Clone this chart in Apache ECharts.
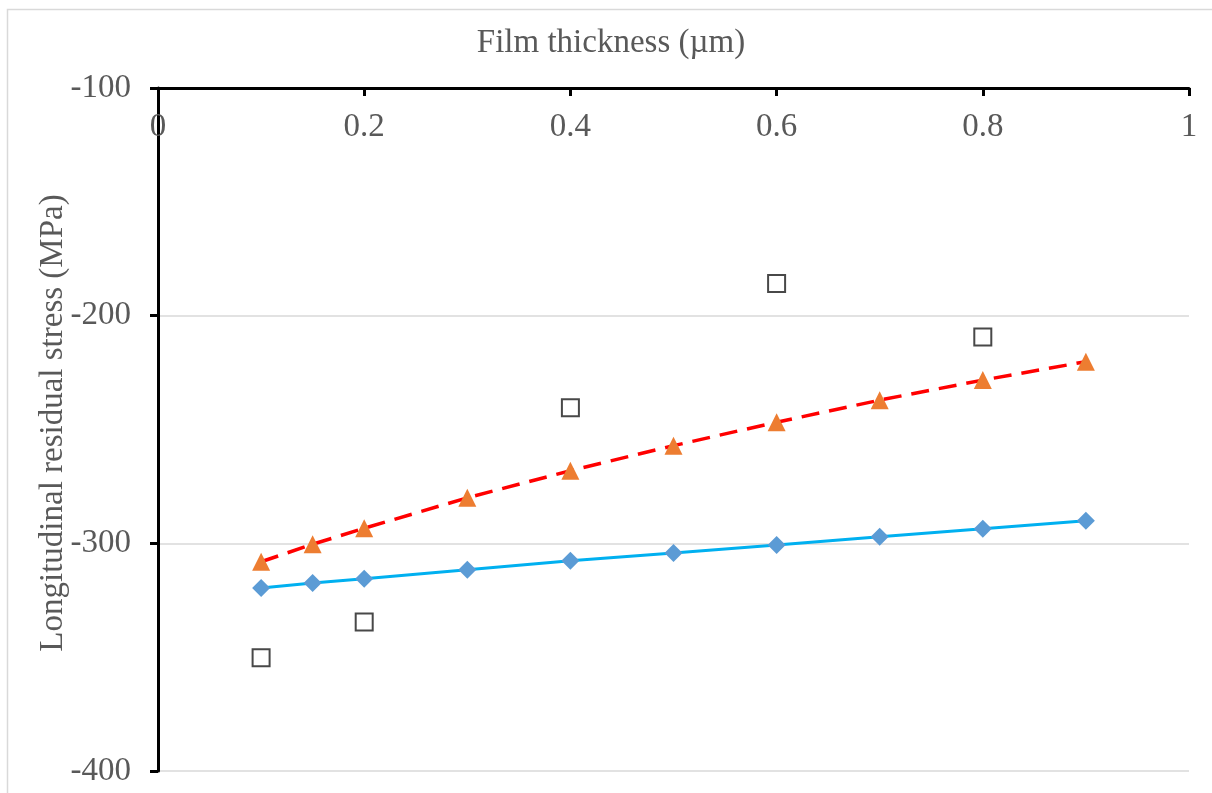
<!DOCTYPE html>
<html>
<head>
<meta charset="utf-8">
<title>Longitudinal residual stress vs film thickness</title>
<script src="https://cdn.jsdelivr.net/npm/echarts@6/dist/echarts.min.js"></script>
<style>
  html, body { margin: 0; padding: 0; background: #ffffff; }
  #chart { width: 1212px; height: 793px; }
</style>
</head>
<body>
<div id="chart"></div>
<script>
// Film thickness (µm) for each computed point
const thickness = [0.1, 0.15, 0.2, 0.3, 0.4, 0.5, 0.6, 0.7, 0.8, 0.9];
// Model A: solid cyan line with diamond markers (MPa)
const stressA = [-319.6, -317.4, -315.6, -311.6, -307.7, -304.2, -300.7, -297.1, -293.6, -290.1];
// Model B: dashed red line with triangle markers (MPa)
const stressB = [-308.1, -300.4, -293.4, -280.0, -268.1, -257.1, -246.8, -237.1, -228.3, -220.2];
// Measured values: open squares
const measuredX = [0.1, 0.2, 0.4, 0.6, 0.8];
const measuredY = [-350.3, -334.5, -240.4, -185.9, -209.4];

const xTitle = 'Film thickness (µm)';
const yTitle = 'Longitudinal residual stress (MPa)';

const pairs = (xs, ys) => xs.map((x, i) => [x, ys[i]]);

const FONT = '"Liberation Serif", "DejaVu Serif", serif';
const TEXT_GRAY = '#595959';
const FONT_SIZE = 33;

const chart = echarts.init(document.getElementById('chart'), null, { renderer: 'canvas' });

chart.setOption({
  animation: false,
  backgroundColor: '#ffffff',
  grid: { left: 158, right: 23, top: 88, bottom: 22, containLabel: false },
  xAxis: {
    type: 'value',
    position: 'top',
    min: 0,
    max: 1,
    interval: 0.2,
    axisLine: { onZero: false, lineStyle: { color: '#000000', width: 3 } },
    axisTick: { inside: true, length: 8, lineStyle: { color: '#000000', width: 3 } },
    axisLabel: {
      inside: true,
      margin: 23,
      color: TEXT_GRAY,
      fontFamily: FONT,
      fontSize: FONT_SIZE,
      formatter: v => String(Math.round(v * 10) / 10)
    },
    splitLine: { show: false }
  },
  yAxis: {
    type: 'value',
    min: -400,
    max: -100,
    interval: 100,
    axisLine: { onZero: false, lineStyle: { color: '#000000', width: 3 } },
    axisTick: { show: true, inside: false, length: 8, lineStyle: { color: '#000000', width: 3 } },
    axisLabel: {
      margin: 27,
      color: TEXT_GRAY,
      fontFamily: FONT,
      fontSize: FONT_SIZE
    },
    splitLine: { show: true, lineStyle: { color: '#d9d9d9', width: 1.5 } }
  },
  series: [
    {
      name: 'Model A',
      type: 'line',
      data: pairs(thickness, stressA),
      symbol: 'diamond',
      symbolSize: 18,
      lineStyle: { color: '#00B0F0', width: 3 },
      itemStyle: { color: '#5B9BD5', borderWidth: 0 },
      z: 3
    },
    {
      name: 'Model B',
      type: 'line',
      data: pairs(thickness, stressB),
      symbol: 'triangle',
      symbolSize: 18,
      lineStyle: { color: '#FF0000', width: 3.5, type: [18, 10] },
      itemStyle: { color: '#ED7D31', borderWidth: 0 },
      z: 4
    },
    {
      name: 'Measured',
      type: 'scatter',
      data: pairs(measuredX, measuredY),
      symbol: 'rect',
      symbolSize: 17,
      itemStyle: { color: '#ffffff', borderColor: '#1a1a1a', borderWidth: 2 },
      z: 5
    }
  ],
  graphic: [
    {
      type: 'rect',
      shape: { x: 7.5, y: 9.5, width: 1230, height: 820 },
      style: { fill: 'none', stroke: '#d9d9d9', lineWidth: 1.5 },
      silent: true,
      z: -1
    },
    {
      type: 'text',
      x: 611,
      y: 43,
      style: {
        text: xTitle,
        font: FONT_SIZE + 'px ' + FONT,
        fill: TEXT_GRAY,
        textAlign: 'center',
        textVerticalAlign: 'middle'
      }
    },
    {
      type: 'text',
      x: 53,
      y: 423,
      rotation: Math.PI / 2,
      style: {
        text: yTitle,
        font: FONT_SIZE + 'px ' + FONT,
        fill: TEXT_GRAY,
        textAlign: 'center',
        textVerticalAlign: 'middle'
      }
    }
  ]
});
</script>
</body>
</html>
